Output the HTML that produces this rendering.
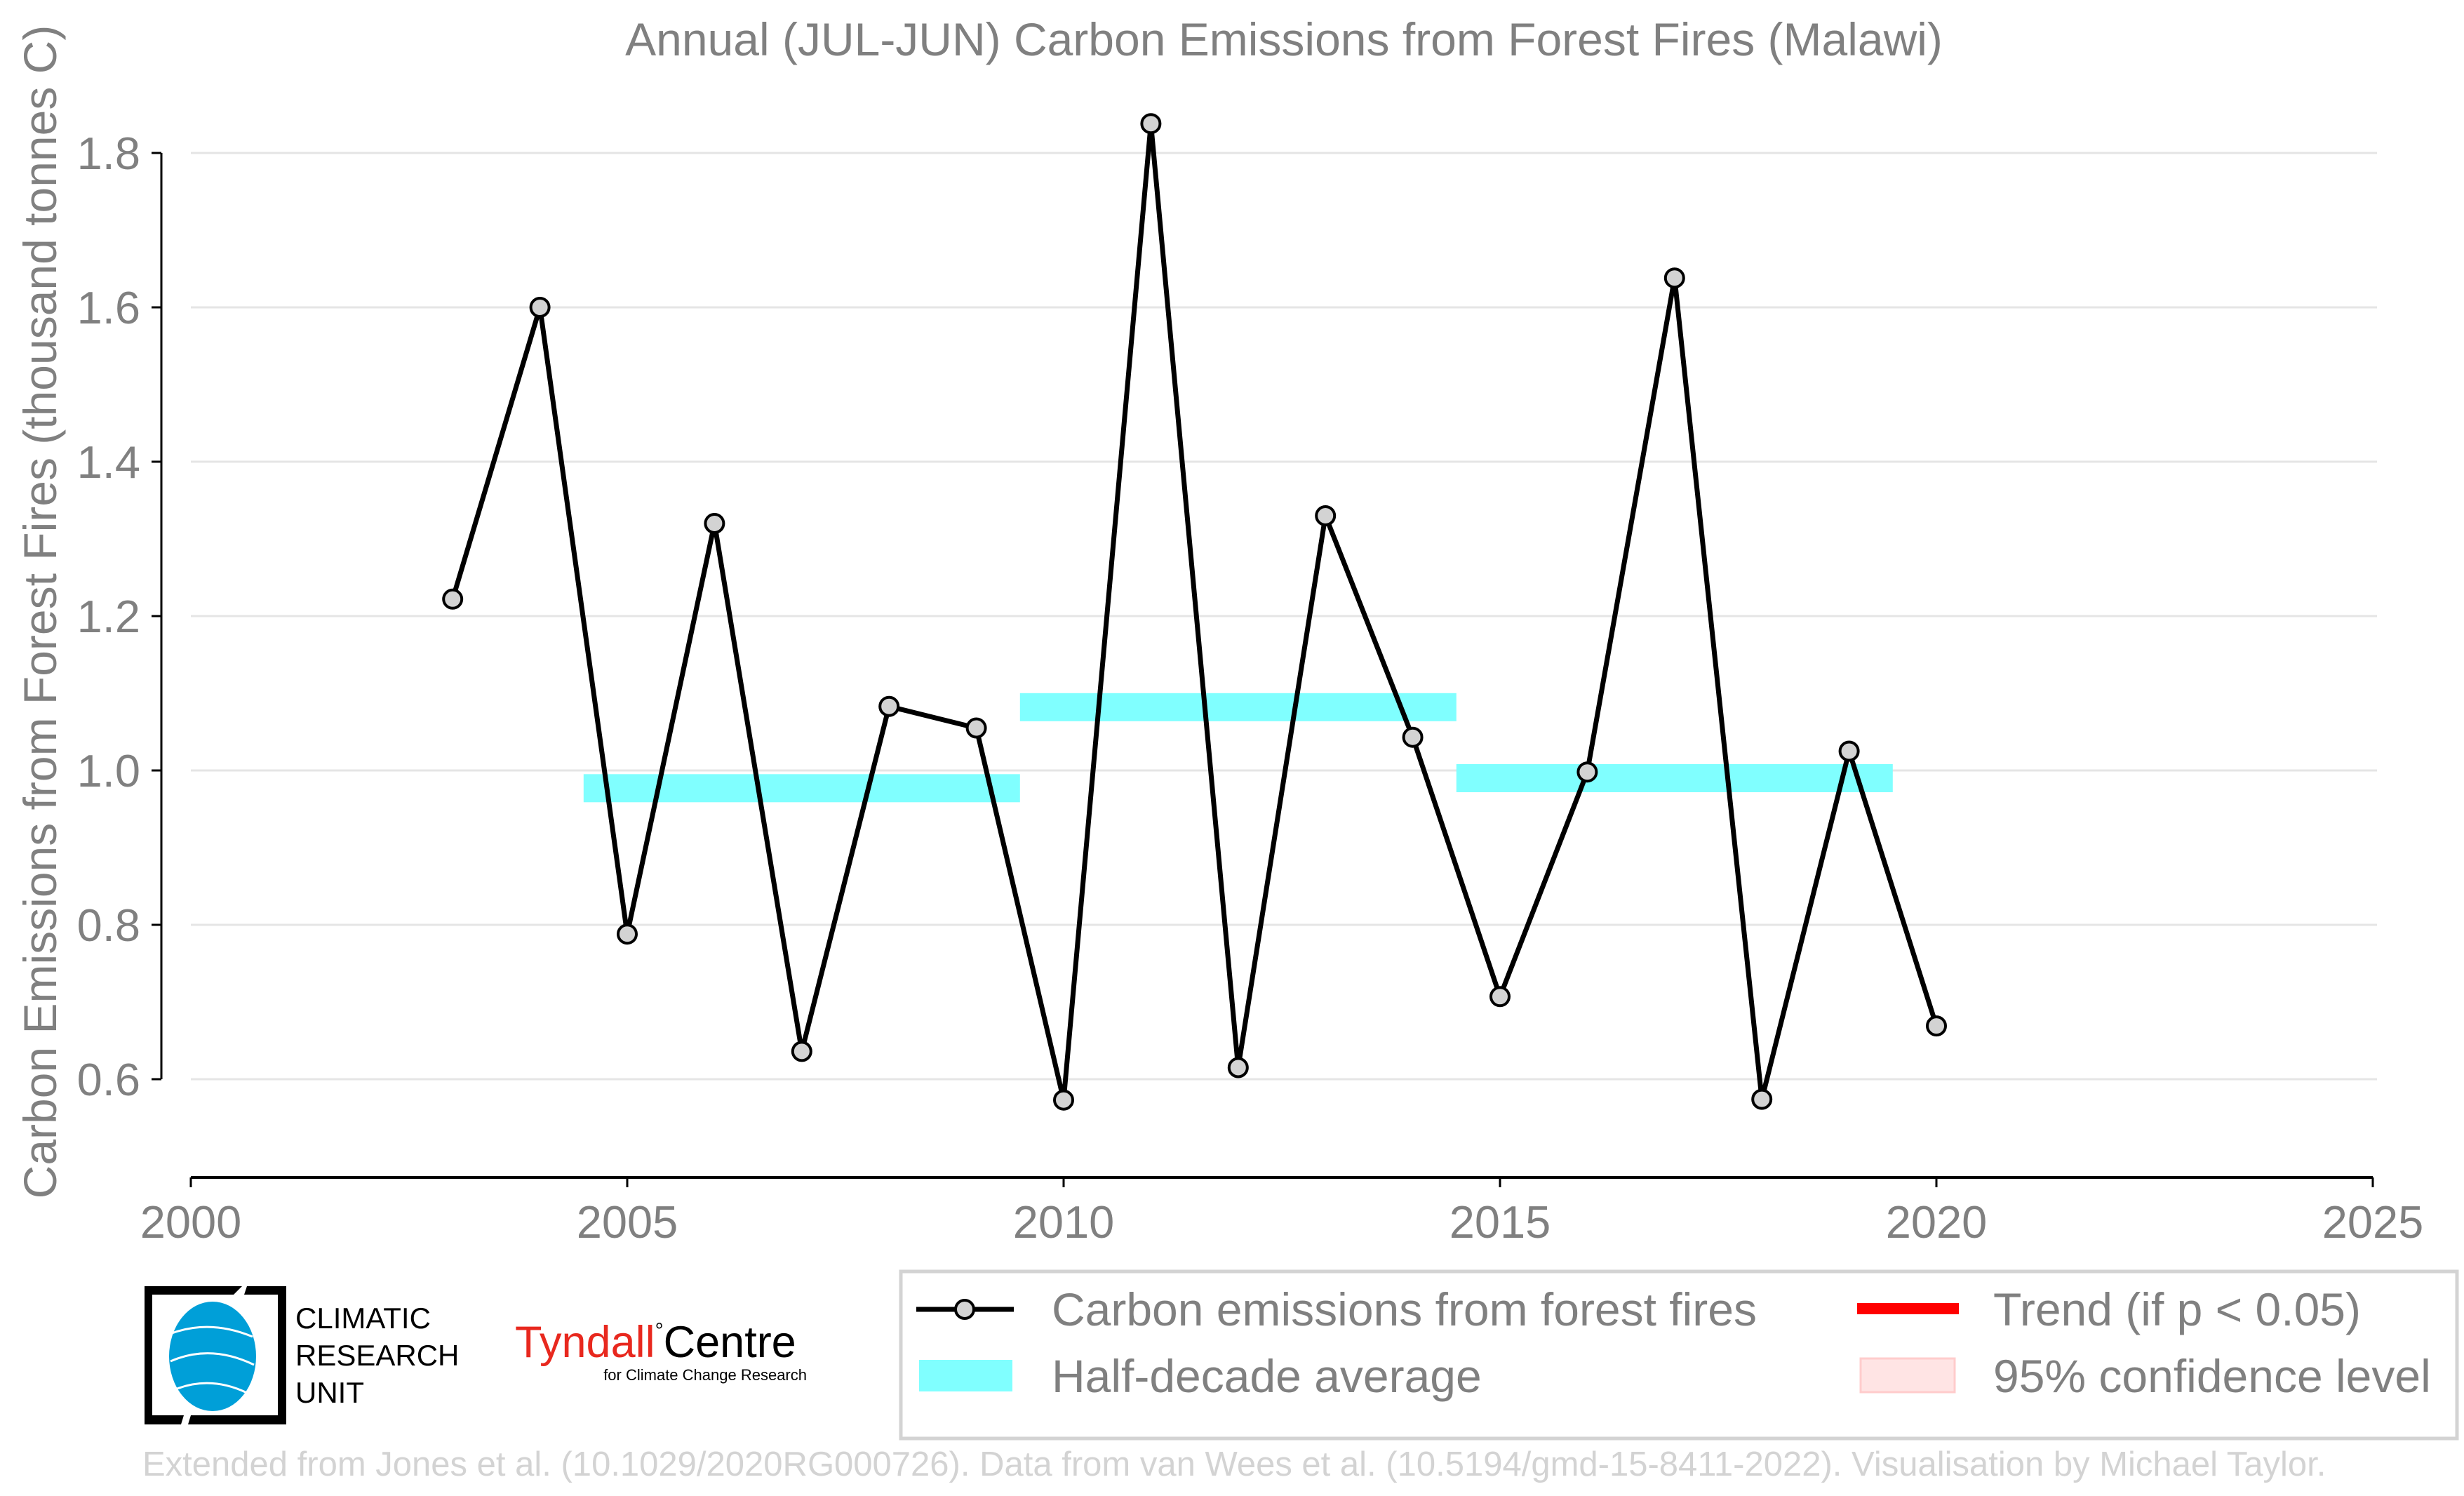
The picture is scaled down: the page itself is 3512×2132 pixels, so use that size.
<!DOCTYPE html>
<html><head><meta charset="utf-8"><style>
html,body{margin:0;padding:0;background:#fff;}
svg{display:block;font-family:"Liberation Sans",Arial,sans-serif;}
</style></head><body>
<svg width="3512" height="2132" viewBox="0 0 3512 2132">
<text x="1830" y="79" text-anchor="middle" font-size="66" fill="#808080">Annual (JUL-JUN) Carbon Emissions from Forest Fires (Malawi)</text>
<text transform="translate(80,872) rotate(-90)" text-anchor="middle" font-size="66" fill="#808080">Carbon Emissions from Forest Fires (thousand tonnes C)</text>
<g id="grid"></g>
<g id="bars"></g>
<g id="axes"></g>
<g id="series"></g>

<g>
<rect x="1284" y="1812" width="2218" height="238" fill="#fff" stroke="#d3d3d3" stroke-width="5"/>
<line x1="1306" y1="1866" x2="1445" y2="1866" stroke="#000" stroke-width="7"/>
<circle cx="1375" cy="1866" r="13" fill="#d3d3d3" stroke="#000" stroke-width="4"/>
<text x="1499" y="1889" font-size="66" fill="#808080">Carbon emissions from forest fires</text>
<rect x="1310" y="1938" width="133" height="45" fill="#80ffff"/>
<text x="1499" y="1984" font-size="66" fill="#808080">Half-decade average</text>
<rect x="2647" y="1857" width="145" height="16" fill="#ff0000"/>
<text x="2841" y="1889" font-size="66" fill="#808080">Trend (if p &lt; 0.05)</text>
<rect x="2652" y="1936" width="134" height="48" fill="#ffe4e4" stroke="#ffcccc" stroke-width="3"/>
<text x="2841" y="1984" font-size="66" fill="#808080">95% confidence level</text>
</g>

<g>
<path d="M206 1833 L345 1833 L333 1845 L217 1845 L217 2017 L262 2017 L258 2030 L206 2030 Z" fill="#000"/>
<path d="M352 1833 L408 1833 L408 2030 L268 2030 L272 2017 L396 2017 L396 1845 L348 1845 Z" fill="#000"/>
<ellipse cx="303" cy="1933" rx="62" ry="78" fill="#009fd8"/>
<path d="M245 1900 Q300 1880 360 1905 M243 1940 Q300 1915 362 1945 M250 1980 Q300 1960 352 1985" stroke="#fff" stroke-width="3" fill="none"/>
<text x="421" y="1893" font-size="42" fill="#000">CLIMATIC</text>
<text x="421" y="1946" font-size="42" fill="#000">RESEARCH</text>
<text x="421" y="1999" font-size="42" fill="#000">UNIT</text>
</g>
<g>
<text x="734" y="1934" font-size="63" fill="#e8281e">Tyndall<tspan fill="#000" font-size="30" dy="-28">°</tspan><tspan fill="#000" font-size="63" dy="28">Centre</tspan></text>
<text x="1150" y="1967" text-anchor="end" font-size="22" fill="#000">for Climate Change Research</text>
</g>
<text x="203" y="2103" font-size="49" fill="#d3d3d3">Extended from Jones et al. (10.1029/2020RG000726). Data from van Wees et al. (10.5194/gmd-15-8411-2022). Visualisation by Michael Taylor.</text>

<script>
const years = [2003,2004,2005,2006,2007,2008,2009,2010,2011,2012,2013,2014,2015,2016,2017,2018,2019,2020];
const emissions = [1.222,1.600,0.788,1.320,0.636,1.083,1.055,0.573,1.838,0.615,1.330,1.043,0.707,0.998,1.638,0.574,1.025,0.669];
const halfStart = [2004.5,2009.5,2014.5];
const halfEnd = [2009.5,2014.5,2019.5];
const halfAvg = [0.977,1.082,0.990];
const xTicks = [2000,2005,2010,2015,2020,2025];
const yTicks = [0.6,0.8,1.0,1.2,1.4,1.6,1.8];

const NS='http://www.w3.org/2000/svg';
function X(yr){return 272+(yr-2000)*124.4;}
function Y(v){return 218+(1.8-v)*1100;}
function mk(tag,attrs,parent){const e=document.createElementNS(NS,tag);for(const k in attrs)e.setAttribute(k,attrs[k]);parent.appendChild(e);return e;}
const grid=document.getElementById('grid'),axes=document.getElementById('axes'),bars=document.getElementById('bars'),series=document.getElementById('series');

yTicks.forEach(v=>{
  const g=mk('line',{x1:272,x2:3388,y1:Y(v),y2:Y(v),stroke:'#e5e5e5','stroke-width':3},grid);
  
  
  const t=mk('line',{x1:216,x2:230,y1:Y(v),y2:Y(v),stroke:'#000','stroke-width':3},axes);
  
  
  const l=mk('text',{x:200,y:Y(v)+23,'text-anchor':'end','font-size':65,fill:'#808080'},axes);
  l.textContent=v.toFixed(1);
  
  
});
const ya=mk('line',{x1:230,x2:230,y1:Y(1.8),y2:Y(0.6),stroke:'#000','stroke-width':3},axes);


const xa=mk('line',{x1:X(2000),x2:X(2025),y1:1678,y2:1678,stroke:'#000','stroke-width':4},axes);


xTicks.forEach(yr=>{
  const t=mk('line',{x1:X(yr),x2:X(yr),y1:1678,y2:1692,stroke:'#000','stroke-width':3},axes);
  
  
  const l=mk('text',{x:X(yr),y:1764,'text-anchor':'middle','font-size':65,fill:'#808080'},axes);
  l.textContent=yr;
  
  
});
halfAvg.forEach((v,i)=>{
  const r=mk('rect',{x:X(halfStart[i]),y:Y(v)-20,width:X(halfEnd[i])-X(halfStart[i]),height:40,fill:'#80ffff'},bars);
  
  
});
const pts=years.map((yr,i)=>X(yr)+','+Y(emissions[i])).join(' ');
const pl=mk('polyline',{points:pts,fill:'none',stroke:'#000','stroke-width':7,'stroke-linejoin':'miter'},series);


years.forEach((yr,i)=>{
  const c=mk('circle',{cx:X(yr),cy:Y(emissions[i]),r:13,fill:'#d3d3d3',stroke:'#000','stroke-width':4},series);
  
  
});
</script>
</svg>
</body></html>
